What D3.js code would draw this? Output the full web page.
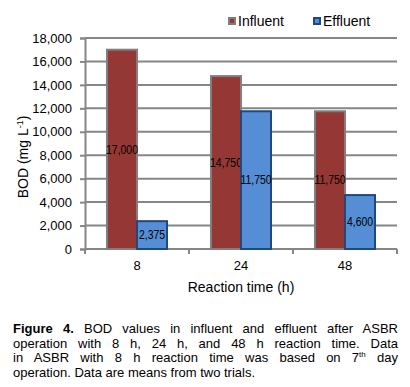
<!DOCTYPE html>
<html>
<head>
<meta charset="utf-8">
<script src="https://cdn.jsdelivr.net/npm/d3@7"></script>
<style>
  body { margin: 0; background: #fff; }
  #wrap { position: relative; width: 410px; height: 387px; }
  svg { position: absolute; left: 0; top: 0; }
  .cap { position: absolute; left: 13px; width: 385px; font-family: Arial, "Liberation Sans", sans-serif; font-size: 13px; color: #000; }
  .cap div { text-align: justify; text-align-last: justify; height: 14.5px; line-height: 14.5px; white-space: nowrap; }
  .cap div.last { text-align-last: left; }
</style>
</head>
<body>
<div id="wrap">
  <svg id="chart" width="410" height="387"></svg>
  <div class="cap" style="top:322px">
    <div><b>Figure 4.</b> BOD values in influent and effluent after ASBR</div>
    <div>operation with 8 h, 24 h, and 48 h reaction time. Data</div>
    <div>in ASBR with 8 h reaction time was based on 7<sup style="font-size:8px;line-height:0">th</sup> day</div>
    <div class="last">operation. Data are means from two trials.</div>
  </div>
</div>
<script>
var categories = ["8", "24", "48"];
var influent = [17000, 14750, 11750];
var effluent = [2375, 11750, 4600];
var yTicks = [0, 2000, 4000, 6000, 8000, 10000, 12000, 14000, 16000, 18000];

(function(){
var svg = d3.select("#chart");
var pLeft = 85, pRight = 397, pTop = 38, pBottom = 249;
var font = "Arial, 'Liberation Sans', sans-serif";
var grid = "#868686";

var x = d3.scaleBand().domain(categories).range([pLeft, pRight]);
var y = d3.scaleLinear().domain([0, 18000]).range([pBottom, pTop]);
var sub = d3.scaleBand().domain(["Influent", "Effluent"]).range([0, 60]);

// gridlines
svg.append("g").selectAll("line")
  .data(yTicks.slice(1))
  .enter().append("line")
    .attr("x1", pLeft).attr("x2", pRight)
    .attr("y1", function(d){ return y(d); }).attr("y2", function(d){ return y(d); })
    .attr("stroke", grid).attr("stroke-width", 2);

// axes
var yAxis = svg.append("g")
  .attr("transform", "translate(" + pLeft + ",0)")
  .call(d3.axisLeft(y).tickValues(yTicks).tickSize(5).tickPadding(8).tickFormat(d3.format(",")));
var xAxis = svg.append("g")
  .attr("transform", "translate(0," + pBottom + ")")
  .call(d3.axisBottom(x).tickSize(0).tickPadding(12));
xAxis.selectAll(".tick")
  .append("line")
    .attr("x1", x.bandwidth() / 2).attr("x2", x.bandwidth() / 2)
    .attr("y1", 0).attr("y2", 5);
xAxis.append("line")
  .attr("x1", pLeft).attr("x2", pLeft).attr("y1", 0).attr("y2", 5);

[yAxis, xAxis].forEach(function(a){
  a.select(".domain").attr("stroke", grid).attr("stroke-width", 2);
  a.selectAll("line").attr("stroke", grid).attr("stroke-width", 2);
  a.selectAll("text").attr("font-family", font).attr("font-size", 13).attr("fill", "#000");
});
xAxis.select(".domain").attr("d", "M" + pLeft + ",0H" + pRight);

// bars
function barX(i, name){ return x(categories[i]) + x.bandwidth() / 2 - 30 + sub(name); }
function drawSeries(vals, name, fill, stroke){
  var g = svg.append("g");
  g.selectAll("rect")
    .data(vals)
    .enter().append("rect")
      .attr("x", function(d, i){ return barX(i, name); })
      .attr("y", function(d){ return y(d); })
      .attr("width", sub.bandwidth())
      .attr("height", function(d){ return pBottom - y(d); })
      .attr("fill", fill).attr("stroke", stroke).attr("stroke-width", 2);
  g.selectAll("text")
    .data(vals)
    .enter().append("text")
      .attr("transform", function(d, i){
        var cx = barX(i, name) + sub.bandwidth() / 2;
        return "translate(" + cx + "," + ((y(d) + pBottom) / 2) + ") scale(0.87,1)";
      })
      .attr("dy", "0.35em")
      .attr("text-anchor", "middle")
      .attr("font-family", font).attr("font-size", 12)
      .text(d3.format(","));
}
drawSeries(influent, "Influent", "#953735", "#7f7f7f");
drawSeries(effluent, "Effluent", "#558ed5", "#1f497d");

// axis titles
svg.append("text")
  .attr("transform", "translate(23,157) rotate(-90)")
  .attr("dy", "0.35em")
  .attr("text-anchor", "middle")
  .attr("font-family", font).attr("font-size", 14)
  .html("BOD (mg L<tspan dy='-5' font-size='9'>-1</tspan><tspan dy='5'>)</tspan>");
svg.append("text")
  .attr("x", (pLeft + pRight) / 2).attr("y", 292)
  .attr("text-anchor", "middle")
  .attr("font-family", font).attr("font-size", 14)
  .text("Reaction time (h)");

// legend
var legend = [
  {name: "Influent", fill: "#953735", stroke: "#7f7f7f", x: 229},
  {name: "Effluent", fill: "#558ed5", stroke: "#1f497d", x: 314}
];
var lg = svg.append("g").selectAll("g").data(legend).enter().append("g");
lg.append("rect")
  .attr("x", function(d){ return d.x; }).attr("y", 18)
  .attr("width", 6).attr("height", 6)
  .attr("fill", function(d){ return d.fill; })
  .attr("stroke", function(d){ return d.stroke; }).attr("stroke-width", 2);
lg.append("text")
  .attr("x", function(d){ return d.x + 9; }).attr("y", 26)
  .attr("font-family", font).attr("font-size", 14)
  .text(function(d){ return d.name; });
})();
</script>
</body>
</html>
